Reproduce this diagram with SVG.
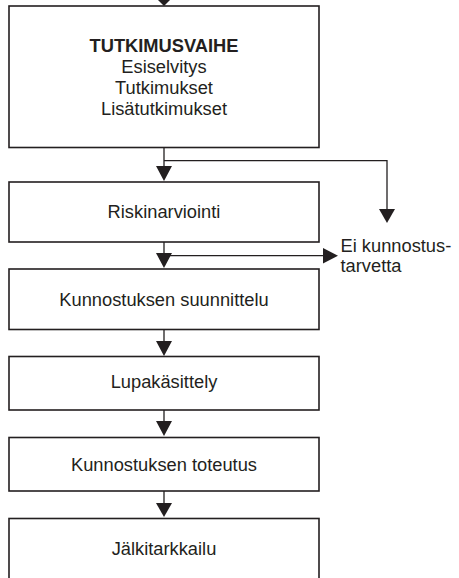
<svg xmlns="http://www.w3.org/2000/svg" width="459" height="578" viewBox="0 0 459 578">
<style>
.box{fill:#fff;stroke:#231f20;stroke-width:1.6}
.ln{fill:none;stroke:#231f20;stroke-width:1.3}
.ah{fill:#231f20}
text{font-family:"Liberation Sans",Arial,sans-serif;font-size:18.3px;fill:#231f20}
.c{text-anchor:middle}
.b{font-weight:bold;font-size:18.3px}
</style>
<rect width="459" height="578" fill="#fff"/>
<g id="connectors">
<line class="ln" x1="164" y1="0" x2="164" y2="2"/>
<polygon class="ah" points="158,0 170,0 164,6"/>
<line class="ln" x1="164" y1="148" x2="164" y2="166"/>
<polygon class="ah" points="156,166 172,166 164,181"/>
<polyline class="ln" points="164,160.7 387,160.7 387,209"/>
<polygon class="ah" points="379,209 395,209 387,223"/>
<line class="ln" x1="164" y1="242" x2="164" y2="254"/>
<polygon class="ah" points="156,253 172,253 164,268"/>
<line class="ln" x1="164" y1="255.7" x2="323" y2="255.7"/>
<polygon class="ah" points="323,248 323,263.5 338,255.7"/>
<line class="ln" x1="164" y1="330" x2="164" y2="341"/>
<polygon class="ah" points="156,341 172,341 164,356"/>
<line class="ln" x1="164" y1="410" x2="164" y2="421"/>
<polygon class="ah" points="156,421 172,421 164,436"/>
<line class="ln" x1="164" y1="491" x2="164" y2="503"/>
<polygon class="ah" points="156,503 172,503 164,517"/>
</g>
<g id="tutkimusvaihe">
<rect class="box" x="9" y="6" width="310" height="141.5"/>
<text class="c b" x="164" y="52.3">TUTKIMUSVAIHE</text>
<text class="c" x="164" y="73">Esiselvitys</text>
<text class="c" x="164" y="94">Tutkimukset</text>
<text class="c" x="164" y="115">Lisätutkimukset</text>
</g>
<g id="riskinarviointi">
<rect class="box" x="9" y="182" width="310" height="60"/>
<text class="c" x="164" y="217.5">Riskinarviointi</text>
</g>
<g id="ei-kunnostustarvetta">
<text x="340.5" y="251.7">Ei kunnostus-</text>
<text x="340.5" y="271.7">tarvetta</text>
</g>
<g id="suunnittelu">
<rect class="box" x="9" y="269" width="310" height="60.5"/>
<text class="c" x="164" y="306">Kunnostuksen suunnittelu</text>
</g>
<g id="lupakasittely">
<rect class="box" x="9" y="356.5" width="310" height="53.5"/>
<text class="c" x="164" y="388.3">Lupakäsittely</text>
</g>
<g id="toteutus">
<rect class="box" x="9" y="437.5" width="310" height="53.5"/>
<text class="c" x="164" y="470.7">Kunnostuksen toteutus</text>
</g>
<g id="jalkitarkkailu">
<rect class="box" x="9" y="518.5" width="310" height="80"/>
<text class="c" x="164" y="555">Jälkitarkkailu</text>
</g>
</svg>
